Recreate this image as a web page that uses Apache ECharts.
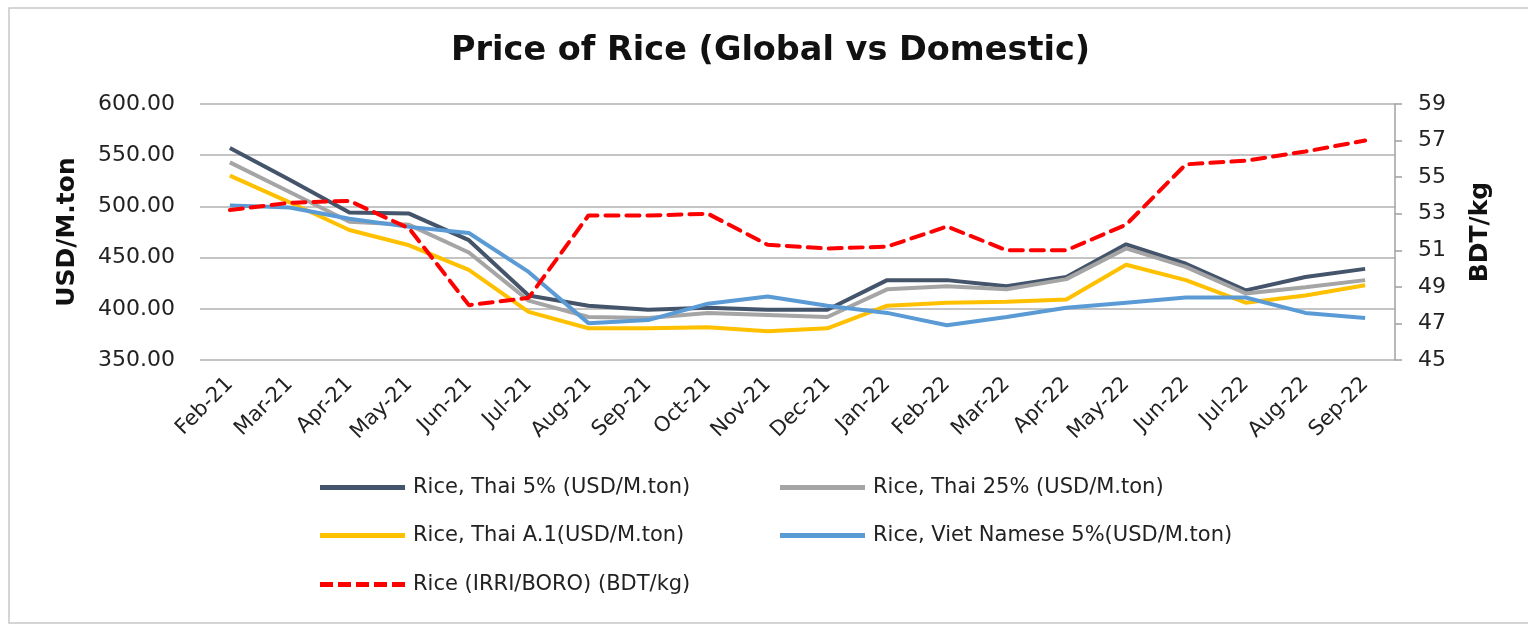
<!DOCTYPE html>
<html>
<head>
<meta charset="utf-8">
<title>Price of Rice (Global vs Domestic)</title>
<script src="https://cdn.jsdelivr.net/npm/echarts@6/dist/echarts.min.js"></script>
<style>
  html, body { margin: 0; padding: 0; background: #fff; }
  #main { width: 1528px; height: 625px; }
</style>
</head>
<body>
<div id="main"></div>
<script>
const months = ['Feb-21', 'Mar-21', 'Apr-21', 'May-21', 'Jun-21', 'Jul-21', 'Aug-21', 'Sep-21', 'Oct-21', 'Nov-21',
  'Dec-21', 'Jan-22', 'Feb-22', 'Mar-22', 'Apr-22', 'May-22', 'Jun-22', 'Jul-22', 'Aug-22', 'Sep-22'];

const thai5 = [557, 526, 494, 493, 467, 413, 403, 399, 401, 399, 399, 428, 428, 422, 431, 463, 444, 418, 431, 439];
const thai25 = [543, 514, 485, 482, 455, 408, 392, 391, 396, 394, 392, 419, 422, 419, 429, 459, 441, 415, 421, 428];
const thaiA1 = [530, 504, 477, 462, 438, 397, 381, 381, 382, 378, 381, 403, 406, 407, 409, 443, 428, 406, 413, 423];
const viet5 = [501, 499, 488, 480, 474, 436, 386, 389, 405, 412, 403, 396, 384, 392, 401, 406, 411, 411, 396, 391];
const boro = [53.2, 53.6, 53.7, 52.2, 48.0, 48.4, 52.9, 52.9, 53.0, 51.3, 51.1, 51.2, 52.3, 51.0, 51.0, 52.4, 55.7, 55.9, 56.4, 57.0];

const seriesNames = [
  'Rice, Thai 5% (USD/M.ton)',
  'Rice, Thai 25% (USD/M.ton)',
  'Rice, Thai A.1(USD/M.ton)',
  'Rice, Viet Namese 5%(USD/M.ton)',
  'Rice (IRRI/BORO) (BDT/kg)',
];
const colors = ['#44546A', '#A5A5A5', '#FFC000', '#5B9BD5', '#FF0000'];

const FONT = 'DejaVu Sans';

// legend keys: a thick bar, and five dashes for the BDT series
const solidKey = 'rect';
const dashedKey = 'path://M0,0h13v5h-13zM18,0h13v5h-13zM36,0h13v5h-13zM54,0h13v5h-13zM72,0h13v5h-13z';

const chart = echarts.init(document.getElementById('main'));

// one legend per entry so they sit in a 2-column grid like the original
const legendPos = [[320, 477], [780, 477], [320, 525], [780, 525], [320, 574]];
const legends = seriesNames.map((name, i) => ({
  data: [{ name, icon: i === 4 ? dashedKey : solidKey }],
  left: legendPos[i][0],
  top: legendPos[i][1],
  padding: 0,
  itemWidth: 85,
  itemHeight: 5,
  textStyle: {
    fontFamily: FONT,
    fontSize: 21,
    color: '#222',
    padding: [0, 0, 0, 3],
  },
}));

function lineSeries(i, data, yAxisIndex) {
  return {
    name: seriesNames[i],
    type: 'line',
    yAxisIndex,
    data,
    symbol: 'none',
    smooth: false,
    lineStyle: {
      width: 4,
      color: colors[i],
      type: i === 4 ? [13, 8] : 'solid',
      cap: i === 4 ? 'round' : 'butt',
    },
    itemStyle: { color: colors[i] },
  };
}

const option = {
  animation: false,
  title: {
    text: 'Price of Rice (Global vs Domestic)',
    left: 446,
    top: 29,
    textStyle: {
      fontFamily: FONT,
      fontSize: 33.5,
      fontWeight: 'bold',
      color: '#111',
    },
  },
  graphic: [{
    type: 'rect',
    shape: { x: 9, y: 8, width: 1540, height: 615 },
    style: { fill: 'none', stroke: '#c8c8c8', lineWidth: 1.5 },
    silent: true,
  }],
  legend: legends,
  grid: {
    left: 200,
    right: 133,
    top: 104,
    bottom: 265,
  },
  xAxis: {
    type: 'category',
    boundaryGap: true,
    data: months,
    axisTick: { show: false },
    axisLine: { show: false },
    axisLabel: {
      rotate: 45,
      margin: 21,
      interval: 0,
      fontFamily: FONT,
      fontSize: 21,
      color: '#222',
    },
  },
  yAxis: [{
    type: 'value',
    name: 'USD/M.ton',
    nameLocation: 'middle',
    nameGap: 120,
    nameTextStyle: {
      fontFamily: FONT,
      fontSize: 25,
      fontWeight: 'bold',
      color: '#111',
    },
    min: 350,
    max: 600,
    interval: 50,
    axisLine: { show: false },
    axisTick: { show: false },
    axisLabel: {
      margin: 25,
      fontFamily: FONT,
      fontSize: 22,
      color: '#222',
      formatter: (v) => v.toFixed(2),
    },
    splitLine: {
      lineStyle: { color: '#b0b0b0', width: 1.5 },
    },
  }, {
    type: 'value',
    name: 'BDT/kg',
    nameLocation: 'middle',
    nameGap: 73,
    nameTextStyle: {
      fontFamily: FONT,
      fontSize: 25,
      fontWeight: 'bold',
      color: '#111',
    },
    min: 45,
    max: 59,
    interval: 2,
    position: 'right',
    axisLine: { show: true, lineStyle: { color: '#a0a0a0', width: 1.5 } },
    axisTick: { show: true, length: 7, lineStyle: { color: '#a0a0a0', width: 1.5 } },
    axisLabel: {
      margin: 23,
      fontFamily: FONT,
      fontSize: 22,
      color: '#222',
    },
    splitLine: { show: false },
  }],
  series: [
    lineSeries(0, thai5, 0),
    lineSeries(1, thai25, 0),
    lineSeries(2, thaiA1, 0),
    lineSeries(3, viet5, 0),
    lineSeries(4, boro, 1),
  ],
};

chart.setOption(option);
</script>
</body>
</html>
